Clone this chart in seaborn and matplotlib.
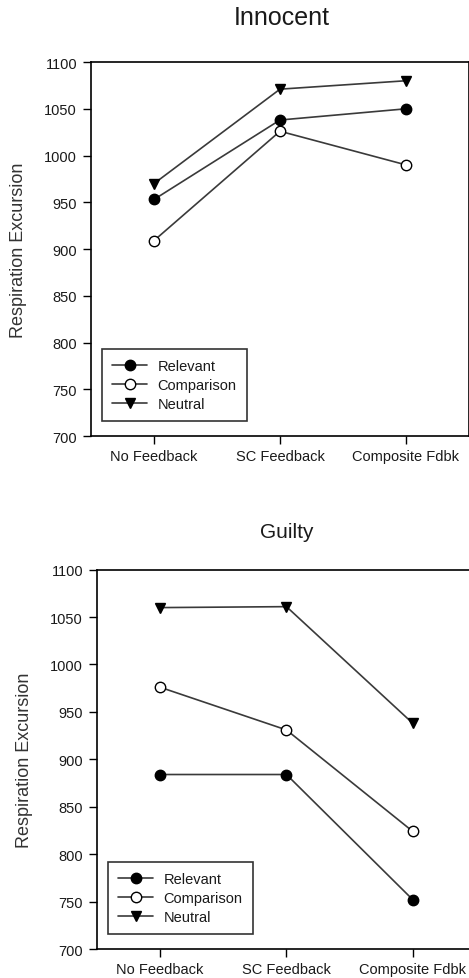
import pandas as pd
import seaborn as sns
import matplotlib.pyplot as plt

conditions = ["No Feedback", "SC Feedback", "Composite Fdbk"]
series_names = ["Relevant", "Comparison", "Neutral"]

innocent_relevant = [953, 1038, 1050]
innocent_comparison = [909, 1026, 990]
innocent_neutral = [970, 1071, 1080]

guilty_relevant = [884, 884, 752]
guilty_comparison = [976, 931, 824]
guilty_neutral = [1060, 1061, 938]

yticks = [700, 750, 800, 850, 900, 950, 1000, 1050, 1100]

styles = {
    "Relevant": dict(marker="o", markerfacecolor="black"),
    "Comparison": dict(marker="o", markerfacecolor="white"),
    "Neutral": dict(marker="v", markerfacecolor="black"),
}

sns.set_style("ticks")
plt.rcParams["font.family"] = ["Liberation Sans", "DejaVu Sans"]
txt = "#1a1a1a"

fig = plt.figure(figsize=(4.69, 9.79), dpi=100)
ax1 = fig.add_axes([0.194, 0.5536, 0.806, 0.382])
ax2 = fig.add_axes([0.2068, 0.0296, 0.808, 0.3875])


def draw(ax, rel, comp, neu, title, title_size, title_xy):
    df = pd.DataFrame({
        "condition": conditions * 3,
        "value": rel + comp + neu,
        "series": [s for s in series_names for _ in conditions],
    })
    for name in series_names:
        sub = df[df["series"] == name]
        sns.lineplot(data=sub, x="condition", y="value", ax=ax, sort=False,
                     color="#3a3a3a", linewidth=1.2, markersize=7.5,
                     markeredgecolor="black", markeredgewidth=1.0,
                     label=name, **styles[name])
    ax.set_xlim(-0.5, 2.5)
    ax.set_ylim(700, 1100)
    ax.set_yticks(yticks)
    ax.set_xlabel("")
    ax.set_ylabel("Respiration Excursion", fontsize=13, color="#333333")
    ax.yaxis.set_label_coords(-0.168, 0.5)
    ax.tick_params(axis="both", labelsize=10.5, colors="black", labelcolor=txt,
                   length=6, width=1.0, direction="out")
    ax.tick_params(axis="y", pad=4)
    for sp in ax.spines.values():
        sp.set_visible(True)
        sp.set_color("black")
        sp.set_linewidth(1.2)
    leg = ax.legend(loc="lower left", bbox_to_anchor=(0.029, 0.04),
                    borderaxespad=0, fontsize=10.5, frameon=True,
                    fancybox=False, edgecolor="black", handlelength=2.4,
                    handletextpad=0.7, labelspacing=0.33, borderpad=0.7)
    leg.get_frame().set_linewidth(1.2)
    for t in leg.get_texts():
        t.set_color(txt)
    fig.text(title_xy[0], title_xy[1], title, fontsize=title_size,
             color=txt, ha="center", va="center")


draw(ax1, innocent_relevant, innocent_comparison, innocent_neutral,
     "Innocent", 18, (282 / 469, 1 - 18 / 979))
draw(ax2, guilty_relevant, guilty_comparison, guilty_neutral,
     "Guilty", 15, (287 / 469, 1 - 533 / 979))

fig.savefig("out.png", dpi=100)
